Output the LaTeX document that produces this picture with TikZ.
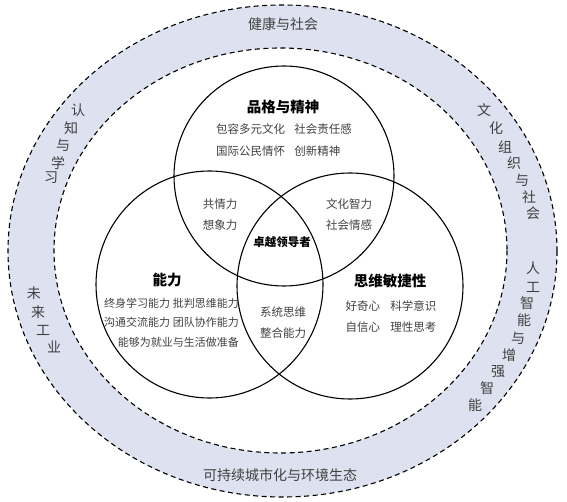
\documentclass[tikz,border=0pt]{standalone}
\usepackage{fontspec}
\setmainfont{Noto Sans CJK SC}
\usetikzlibrary{positioning}
\definecolor{bandblue}{RGB}{222,226,240}
\definecolor{textgray}{RGB}{64,64,64}

\begin{document}
\begin{tikzpicture}[x=1pt, y=-1pt,
    ring/.style={dash pattern=on 5pt off 3.5pt, line width=1.1pt},
    venn/.style={line width=1.1pt},
    title/.style={font=\fontsize{14.5}{17}\selectfont\bfseries, inner sep=0pt},
    item/.style={font=\fontsize{11.5}{21.5}\selectfont, text=textgray, inner sep=0pt},
    band/.style={font=\fontsize{14}{16}\selectfont, text=textgray, inner sep=0pt}]
    \useasboundingbox (0,0) rectangle (567,502);

    % Outer ring
    \fill[bandblue, even odd rule] (282.5,251) ellipse (274.5 and 246) (280.5,250.5) ellipse (226.5 and 202.5);
    \draw[ring] (282.5,251) ellipse (274.5 and 246);
    \draw[ring] (280.5,250.5) ellipse (226.5 and 202.5);

    % Ring labels
    \node[band] (health) at (283,24) {健康与社会};
    \node[band] (city) at (280,475) {可持续城市化与环境生态};
    \foreach \c/\px/\py [count=\i] in {认/78/110, 知/71/128, 与/63/145, 学/58/163, 习/51/178}
        \node[band] (cog-\i) at (\px,\py) {\c};
    \foreach \c/\px/\py [count=\i] in {未/34/293, 来/38/312, 工/43/330, 业/54/347}
        \node[band] (ind-\i) at (\px,\py) {\c};
    \foreach \c/\px/\py [count=\i] in {文/484/110, 化/496/128, 组/505/147, 织/514/163, 与/522/180, 社/529/197, 会/533/213}
        \node[band] (cul-\i) at (\px,\py) {\c};
    \foreach \c/\px/\py [count=\i] in {人/533/268, 工/533/287, 智/527/303, 能/524/320, 与/518/338, 增/509/355, 强/498/372, 智/487/388, 能/475/405}
        \node[band] (ai-\i) at (\px,\py) {\c};

    % Circles
    \draw[venn] (284,176) circle (110);
    \draw[venn] (209.5,284.5) circle (113.5);
    \draw[venn] (350,286) circle (113);

    % Character
    \node[title] (pinge) at (283,107) {品格与精神};
    \node[item, align=left] (pinge-items) at (284,140) {包容多元文化\hspace{0.8em}社会责任感\\国际公民情怀\hspace{0.8em}创新精神};

    % Overlaps
    \node[item, align=center] (empathy) at (220,214.5) {共情力\\想象力};
    \node[item, align=center] (culture) at (349,214.5) {文化智力\\社会情感};
    \node[item, align=center] (system) at (283,322.5) {系统思维\\整合能力};
    \node[title, font=\fontsize{11.5}{14}\selectfont\bfseries] (leader) at (282,242) {卓越领导者};

    % Ability
    \node[title] (nengli) at (167,280) {能力};
    \node[item, align=right, font=\fontsize{11}{19.5}\selectfont] (nengli-items) at (171.5,322.5) {终身学习能力\hspace{0.25em}批判思维能力\\沟通交流能力\hspace{0.25em}团队协作能力\\能够为就业与生活做准备};

    % Thinking
    \node[title] (siwei) at (390,281) {思维敏捷性};
    \node[item, align=left] (siwei-items) at (391,316.5) {好奇心\hspace{0.9em}科学意识\\自信心\hspace{0.9em}理性思考};
\end{tikzpicture}
\end{document}
